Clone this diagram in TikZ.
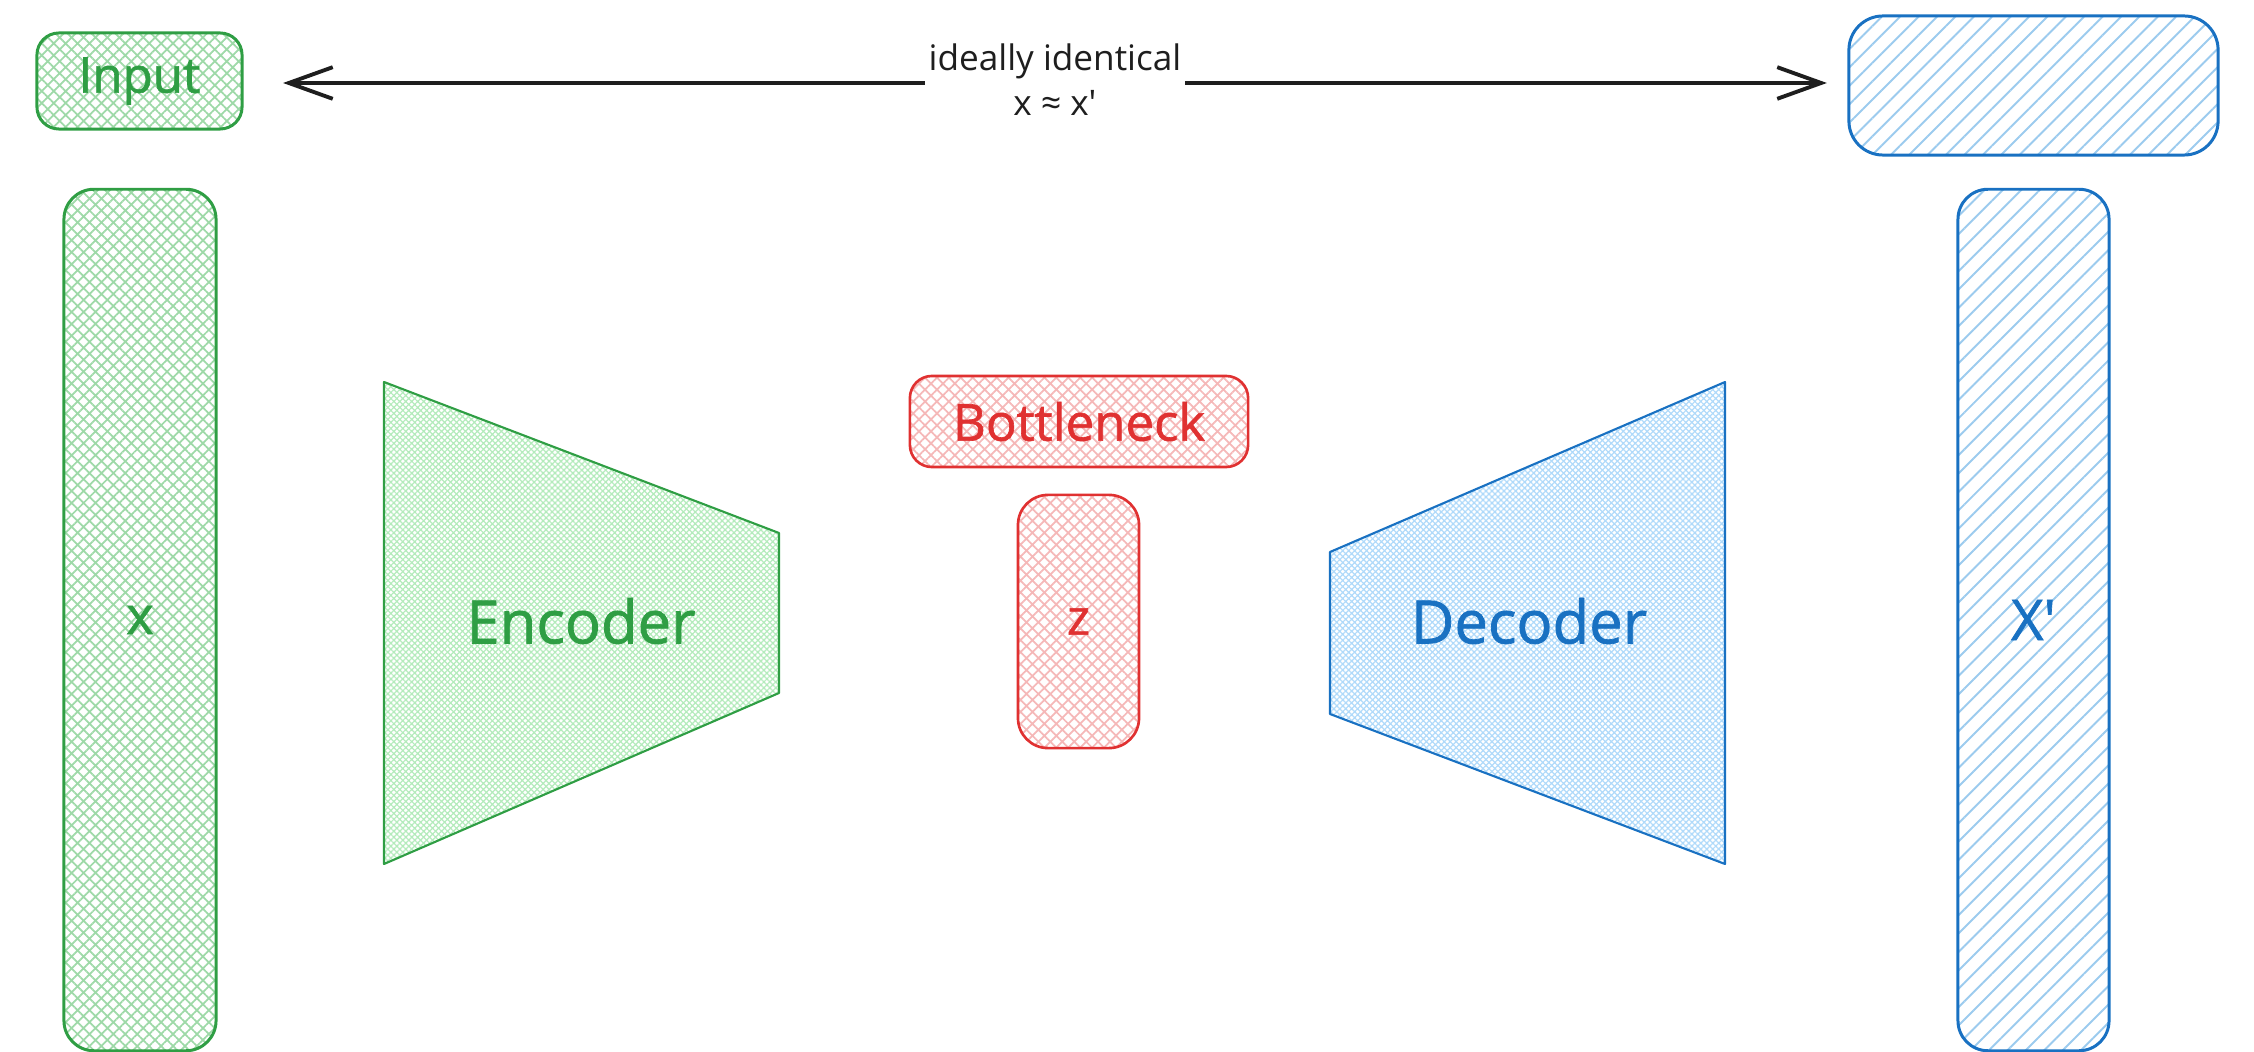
\documentclass[tikz,border=0pt]{standalone}
\usepackage{fontspec}
\setmainfont{Open Sans}
\newfontfamily\boldish[FakeBold=1.2]{Open Sans}
\usetikzlibrary{arrows.meta,patterns.meta}
\definecolor{gstroke}{HTML}{2F9E44}
\definecolor{ghatch}{HTML}{9ED9A8}
\definecolor{ghatchlt}{HTML}{B4EBBC}
\definecolor{rstroke}{HTML}{E03131}
\definecolor{rhatch}{HTML}{F5B8B8}
\definecolor{bstroke}{HTML}{1971C2}
\definecolor{bhatch}{HTML}{9CCBEE}
\definecolor{bhatchlt}{HTML}{B0DAFA}
\definecolor{ink}{HTML}{1E1E1E}
\tikzset{
  gbox/.style={draw=gstroke, line width=0.85pt, text=gstroke, outer sep=0pt,
    pattern={Hatch[angle=45,distance=2.4pt,line width=0.5pt]}, pattern color=ghatch},
  rbox/.style={draw=rstroke, line width=0.75pt, text=rstroke, outer sep=0pt,
    pattern={Hatch[angle=45,distance=2.4pt,line width=0.5pt]}, pattern color=rhatch},
  bbox/.style={draw=bstroke, line width=0.85pt, text=bstroke, outer sep=0pt,
    pattern={Lines[angle=45,distance=3.7pt,line width=0.55pt]}, pattern color=bhatch},
  gtrap/.style={draw=gstroke, line width=0.6pt, line join=round,
    pattern={Hatch[angle=45,distance=1.2pt,line width=0.35pt]}, pattern color=ghatchlt},
  btrap/.style={draw=bstroke, line width=0.6pt, line join=round,
    pattern={Hatch[angle=45,distance=1.2pt,line width=0.35pt]}, pattern color=bhatchlt},
  arr/.style={draw=ink, line width=1.1pt,
    {Straight Barb[length=12.5pt,width=9pt,line width=1.1pt]}-{Straight Barb[length=12.5pt,width=9pt,line width=1.1pt]}},
  lbl/.style={fill=white, text=ink, inner xsep=1pt, inner ysep=2pt, align=center,
    font=\fontsize{10}{12.8}\selectfont},
}
\begin{document}
\begin{tikzpicture}[x=0.01cm,y=-0.01cm]
\useasboundingbox (0,0) rectangle (2254,1052);

% top boxes
\node[gbox, rounded corners=0.22cm, minimum width=2.05cm, minimum height=0.96cm,
  font=\boldish\fontsize{14}{16}\selectfont] (in) at (139.5,81) {Input};
\node[bbox, rounded corners=0.34cm, minimum width=3.69cm, minimum height=1.39cm] (out) at (2033.5,85.5) {};

% tall boxes
\node[gbox, rounded corners=0.3cm, minimum width=1.52cm, minimum height=8.61cm,
  font=\boldish\fontsize{15}{18}\selectfont] (xin) at (140,620) {x};
\node[bbox, rounded corners=0.3cm, minimum width=1.51cm, minimum height=8.61cm,
  font=\boldish\fontsize{16}{18}\selectfont] (xout) at (2033.5,620) {X\textquotesingle};

% bottleneck
\node[rbox, rounded corners=0.22cm, minimum width=3.38cm, minimum height=0.91cm,
  font=\boldish\fontsize{14.5}{17}\selectfont] (bn) at (1079,421.5) {Bottleneck};
\node[rbox, rounded corners=0.3cm, minimum width=1.21cm, minimum height=2.53cm,
  font=\boldish\fontsize{14}{16}\selectfont] (z) at (1078.5,621.5) {z};

% encoder
\coordinate (e1) at (384,382);
\coordinate (e2) at (779,533);
\coordinate (e3) at (779,693);
\coordinate (e4) at (384,864);
\draw[gtrap] (e1) -- (e2) -- (e3) -- (e4) -- cycle;
\node[text=gstroke, font=\boldish\fontsize{17}{20}\selectfont] (enc) at (581,621) {Encoder};

% decoder
\coordinate (d1) at (1330,552);
\coordinate (d2) at (1725,382);
\coordinate (d3) at (1725,864);
\coordinate (d4) at (1330,714);
\draw[btrap] (d1) -- (d2) -- (d3) -- (d4) -- cycle;
\node[text=bstroke, font=\boldish\fontsize{17}{20}\selectfont] (dec) at (1529,621) {Decoder};

% arrow
\draw[arr] ([xshift=0.41cm,yshift=-0.02cm]in.east) --
  node[lbl, yshift=0.03cm] (note) {ideally identical\\x ≈ x\textquotesingle}
  ([xshift=-0.22cm,yshift=0.025cm]out.west);
\end{tikzpicture}
\end{document}
